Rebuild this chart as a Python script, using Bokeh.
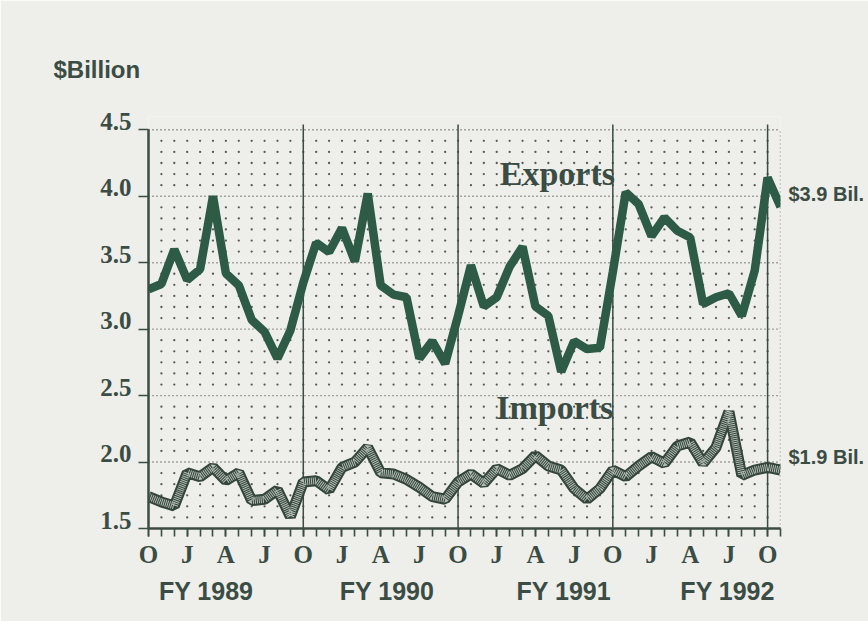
from bokeh.plotting import figure
from bokeh.models import Range1d, FixedTicker, LinearAxis
from bokeh.embed import file_html
from bokeh.resources import INLINE
from bokeh.core.properties import value
import numpy as np

# ---------------- data (monthly, Oct 1988 .. Nov 1992) ----------------
months = list(range(50))
exports = [3.30, 3.34, 3.60, 3.37, 3.45, 4.00, 3.42, 3.33, 3.07, 2.98, 2.78, 2.99,
           3.35, 3.65, 3.58, 3.76, 3.51, 4.02, 3.33, 3.26, 3.24, 2.78, 2.91, 2.74,
           3.10, 3.48, 3.17, 3.24, 3.47, 3.62, 3.17, 3.10, 2.68, 2.91, 2.85, 2.86,
           3.43, 4.03, 3.94, 3.70, 3.84, 3.74, 3.69, 3.19, 3.24, 3.27, 3.10, 3.44, 4.14, 3.92]
imports = [1.74, 1.70, 1.67, 1.92, 1.89, 1.96, 1.86, 1.92, 1.71, 1.72, 1.79, 1.59,
           1.85, 1.86, 1.79, 1.96, 2.00, 2.11, 1.92, 1.91, 1.87, 1.81, 1.74, 1.72,
           1.85, 1.91, 1.84, 1.95, 1.90, 1.95, 2.05, 1.97, 1.94, 1.80, 1.72, 1.80,
           1.94, 1.89, 1.97, 2.04, 1.99, 2.12, 2.15, 1.99, 2.11, 2.38, 1.90, 1.94, 1.96, 1.94]
month_letters = ["O", "J", "A", "J"] * 4 + ["O"]
month_letter_pos = list(range(0, 49, 3))
y_ticks = [1.5, 2.0, 2.5, 3.0, 3.5, 4.0, 4.5]
y_tick_labels = ["1.5", "2.0", "2.5", "3.0", "3.5", "4.0", "4.5"]
fy_labels = ["FY 1989", "FY 1990", "FY 1991", "FY 1992"]
fy_bounds = [12, 24, 36, 48]
end_labels = ["$3.9 Bil.", "$1.9 Bil."]

# ---------------- styling ----------------
BG = "#eeeeea"
INK = "#3a4c43"
GREEN = "#2e5b46"
DOT = "#555a56"
SERIF = "Liberation Serif"
SANS = "Liberation Sans"
Y_LO, Y_HI, Y_TOP = 1.5, 4.5, 4.6
PX_PER_UNIT = 412.0 / (Y_TOP - Y_LO)

p = figure(width=868, height=621, output_backend="svg", toolbar_location=None,
           x_range=Range1d(0, 49), y_range=Range1d(Y_LO, Y_TOP),
           min_border_left=148, min_border_right=88, min_border_top=116,
           min_border_bottom=93)
p.background_fill_color = BG
p.border_fill_color = BG
p.outline_line_color = None
p.grid.visible = False

# unit label as title
p.title.text = "$Billion"
p.title.align = "left"
p.title.offset = -95
p.title.standoff = 68
p.title.text_font = SANS
p.title.text_font_style = "bold"
p.title.text_font_size = "24px"
p.title.text_color = INK

# dotted background grid
gx, gy = np.meshgrid(np.arange(1, 49), Y_LO + np.arange(1, 36) / 12.0)
mask = (np.round((gy - Y_LO) * 12) % 6) != 0
p.scatter(gx[mask], gy[mask], size=2.3, color=DOT, line_color=None)
for yv in y_ticks[1:]:
    p.segment(x0=[0], y0=[yv], x1=[49], y1=[yv], line_color=DOT,
              line_width=1.4, line_dash="1 3")
p.segment(x0=[49], y0=[Y_LO], x1=[49], y1=[Y_HI], line_color=DOT,
          line_width=1.4, line_dash="1 3")
p.segment(x0=fy_bounds, y0=[Y_LO] * 4, x1=fy_bounds, y1=[Y_HI + 0.04] * 4,
          line_color=INK, line_width=1.5)

# series
p.line(months, imports, line_width=11, color="#34463c", line_join="bevel")
p.line(months, imports, line_width=7, color="#b3bcb5", line_dash="1 1", line_join="bevel")
p.line(months, exports, line_width=8.5, color=GREEN, line_join="bevel")

# series names
p.text(x=[31.7], y=[4.17], text=["Exports"], text_align="center", text_baseline="middle",
       text_font=value(SERIF), text_font_style="bold", text_font_size="34px",
       text_color=INK)
p.text(x=[31.5], y=[2.41], text=["Imports"], text_align="center", text_baseline="middle",
       text_font=value(SERIF), text_font_style="bold", text_font_size="34px",
       text_color=INK)

# ---------------- axes ----------------
xa = p.xaxis[0]
xa.ticker = FixedTicker(ticks=month_letter_pos, minor_ticks=months)
xa.major_label_overrides = {m: t for m, t in zip(month_letter_pos, month_letters)}
xa.axis_line_width = 2.5
xa.axis_line_color = INK
xa.major_tick_line_color = INK
xa.minor_tick_line_color = INK
xa.major_tick_line_width = 1.6
xa.minor_tick_line_width = 1.6
xa.major_tick_out = 8
xa.minor_tick_out = 8
xa.major_tick_in = 0
xa.minor_tick_in = 0
xa.major_label_standoff = 4
xa.major_label_text_font = SERIF
xa.major_label_text_font_style = "bold"
xa.major_label_text_font_size = "25px"
xa.major_label_text_color = INK

# fiscal-year labels (second bottom axis)
fy_pos = [4.47, 18.5, 32.2, 44.9]
fya = LinearAxis(ticker=FixedTicker(ticks=fy_pos, minor_ticks=[]))
fya.major_label_overrides = {m: t for m, t in zip(fy_pos, fy_labels)}
fya.axis_line_color = None
fya.major_tick_line_color = None
fya.major_tick_out = 0
fya.major_tick_in = 0
fya.major_label_standoff = 6
fya.major_label_text_font = SANS
fya.major_label_text_font_style = "bold"
fya.major_label_text_font_size = "25px"
fya.major_label_text_color = INK
p.add_layout(fya, "below")

# left axis: line and ticks
ya = p.yaxis[0]
ya.ticker = FixedTicker(ticks=y_ticks, minor_ticks=[])
ya.bounds = (Y_LO, Y_HI)
ya.major_label_overrides = {v: "" for v in y_ticks}
ya.axis_line_width = 2.5
ya.axis_line_color = INK
ya.major_tick_line_color = INK
ya.major_tick_line_width = 1.6
ya.major_tick_out = 10
ya.major_tick_in = 0
ya.major_label_standoff = 0

# left tick labels sit just above their ticks (range shifted by ~8.5 px)
d_lab = 8.5 / PX_PER_UNIT
p.extra_y_ranges["lab"] = Range1d(Y_LO - d_lab, Y_TOP - d_lab)
yl = LinearAxis(y_range_name="lab", ticker=FixedTicker(ticks=y_ticks, minor_ticks=[]))
yl.major_label_overrides = {v: t for v, t in zip(y_ticks, y_tick_labels)}
yl.axis_line_color = None
yl.major_tick_line_color = None
yl.major_tick_out = 0
yl.major_tick_in = 0
yl.major_label_standoff = 7
yl.major_label_text_font = SERIF
yl.major_label_text_font_style = "bold"
yl.major_label_text_font_size = "25px"
yl.major_label_text_color = INK
p.add_layout(yl, "left")

# right-hand end-value labels (range shifted by ~13 px)
d_end = 13.0 / PX_PER_UNIT
p.extra_y_ranges["end"] = Range1d(Y_LO - d_end, Y_TOP - d_end)
end_vals = [exports[-1], imports[-1]]
ye = LinearAxis(y_range_name="end", ticker=FixedTicker(ticks=end_vals, minor_ticks=[]))
ye.major_label_overrides = {v: t for v, t in zip(end_vals, end_labels)}
ye.axis_line_color = None
ye.major_tick_line_color = None
ye.major_tick_out = 0
ye.major_tick_in = 0
ye.major_label_standoff = 8
ye.major_label_text_font = SANS
ye.major_label_text_font_style = "bold"
ye.major_label_text_font_size = "20px"
ye.major_label_text_color = INK
p.add_layout(ye, "right")

open("out.html", "w").write(file_html(p, INLINE))
